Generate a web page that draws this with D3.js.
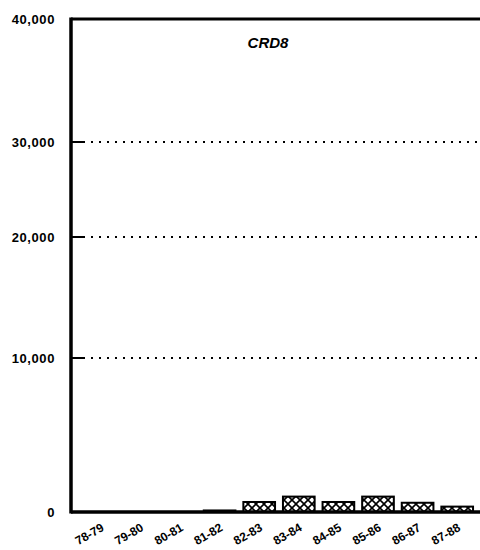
<!DOCTYPE html>
<html><head><meta charset="utf-8">
<script src="https://cdn.jsdelivr.net/npm/d3@7"></script>
<style>body{margin:0;background:#fff;overflow:hidden}svg{display:block}</style>
</head><body>
<script>
const categories = ["78-79","79-80","80-81","81-82","82-83","83-84","84-85","85-86","86-87","87-88"];
const values = [0, 0, 0, 100, 650, 1000, 650, 1000, 600, 350];
const yTicks = [0, 10000, 20000, 30000, 40000];
const gridTicks = [10000, 20000, 30000];
const title = "CRD8";

const W = 480, H = 550;
const svg = d3.select("body").append("svg").attr("width", W).attr("height", H);
const defs = svg.append("defs");
const pat = defs.append("pattern").attr("id","xh").attr("patternUnits","userSpaceOnUse")
  .attr("width",8).attr("height",8);
pat.append("rect").attr("width",8).attr("height",8).attr("fill","#fff");
pat.append("path").attr("d","M0,0L8,8M8,0L0,8").attr("stroke","#000").attr("stroke-width",1.6);

const x = d3.scaleBand().domain(categories).range([81, 477]).paddingInner(0.2).paddingOuter(0.1);
// scanned axis spacing is uneven; polylinear scale follows the printed tick positions
const y = d3.scaleLinear().domain(yTicks).range([512, 358, 237, 142, 19]);

const left = 71, right = 480;
const font = "Liberation Sans, Arial, Helvetica, sans-serif";

// grid lines
svg.append("g").selectAll("line").data(gridTicks).join("line")
  .attr("x1", left + 12).attr("x2", right)
  .attr("y1", d => y(d)).attr("y2", d => y(d))
  .attr("stroke","#000").attr("stroke-width",2.2).attr("stroke-dasharray","2,6");
svg.append("g").selectAll("line").data(gridTicks).join("line")
  .attr("x1", left).attr("x2", left + 12)
  .attr("y1", d => y(d)).attr("y2", d => y(d))
  .attr("stroke","#000").attr("stroke-width",2);

// bars
svg.append("g").selectAll("rect").data(categories.map((c,i)=>({c, v: values[i]})).filter(d=>d.v>0)).join("rect")
  .attr("x", d => x(d.c)).attr("width", x.bandwidth())
  .attr("y", d => y(d.v)).attr("height", d => y(0) - y(d.v))
  .attr("fill","url(#xh)").attr("stroke","#000").attr("stroke-width",2);

// frame
svg.append("line").attr("x1",left).attr("x2",right).attr("y1",y(40000)).attr("y2",y(40000)).attr("stroke","#000").attr("stroke-width",3);
svg.append("line").attr("x1",left).attr("x2",left).attr("y1",y(40000)-1.5).attr("y2",y(0)+1.5).attr("stroke","#000").attr("stroke-width",3.5);
svg.append("line").attr("x1",left).attr("x2",right).attr("y1",y(0)).attr("y2",y(0)).attr("stroke","#000").attr("stroke-width",3.5);

// y labels
svg.append("g").selectAll("text").data(yTicks).join("text")
  .attr("x", 55).attr("y", d => y(d)).attr("dy","0.35em")
  .attr("text-anchor","end").attr("font-family",font)
  .attr("font-size",13).attr("letter-spacing",0.6).attr("font-weight","bold").text(d => d3.format(",")(d));

// x labels
svg.append("g").selectAll("text").data(categories).join("text")
  .attr("transform", d => `translate(${x(d) + x.bandwidth()/2 + 4},${y(0) + 18}) rotate(-30)`)
  .attr("text-anchor","end").attr("font-family",font)
  .attr("font-size",12).attr("font-weight","bold").text(d => d);

// title
svg.append("text").attr("x",268).attr("y",48).attr("text-anchor","middle")
  .attr("font-family",font).attr("font-size",15)
  .attr("font-weight","bold").attr("font-style","italic").text(title);
</script>
</body></html>
